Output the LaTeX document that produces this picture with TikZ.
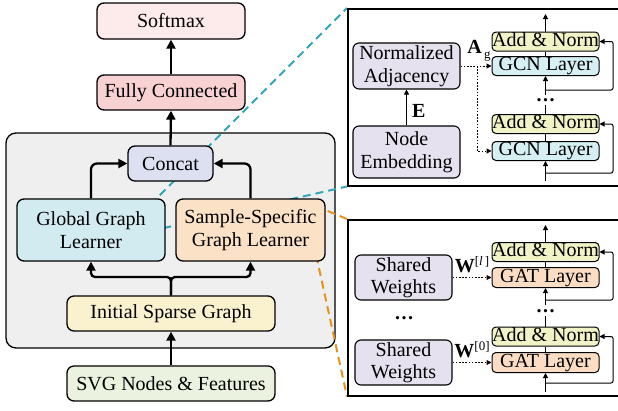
\documentclass[tikz,border=0pt]{standalone}
\usepackage{fontspec}
\setmainfont{Liberation Serif}
\usetikzlibrary{arrows.meta,backgrounds,calc}

\definecolor{softmaxfill}{HTML}{FDEAEA}
\definecolor{fcfill}{HTML}{F8D1D2}
\definecolor{concatfill}{HTML}{DCE0F1}
\definecolor{globalfill}{HTML}{D1EBF0}
\definecolor{samplefill}{HTML}{FBE1C6}
\definecolor{initfill}{HTML}{FAF2CE}
\definecolor{svgfill}{HTML}{EBF3E0}
\definecolor{containerfill}{HTML}{EFEFEF}
\definecolor{lavfill}{HTML}{E6E1EE}
\definecolor{anfill}{HTML}{F1F3C6}
\definecolor{gcnfill}{HTML}{D5EFF3}
\definecolor{gatfill}{HTML}{FBDDC3}
\definecolor{tealline}{HTML}{31A6B8}
\definecolor{orangeline}{HTML}{E8921E}

\begin{document}
\begin{tikzpicture}[x=1pt,y=-1pt,
  font=\fontsize{20}{22.5}\selectfont,
  box/.style={draw, line width=1.3pt, rounded corners=7pt, align=center, inner sep=0pt},
  lbox/.style={draw, line width=1.1pt, rounded corners=6pt, align=center, inner sep=0pt,
               fill=lavfill, minimum width=97pt, minimum height=45pt},
  sbox/.style={draw, line width=1pt, rounded corners=4pt, inner sep=0pt,
               minimum width=107pt, minimum height=19pt, text height=13pt, text depth=4pt},
  panel/.style={draw, line width=1.5pt, fill=white, inner sep=0pt, anchor=north west},
  arr/.style={line width=2.3pt, -{Triangle[length=9pt,width=9pt]}},
  link/.style={line width=1pt},
  tarr/.style={line width=1pt, -{Triangle[length=5pt,width=5pt]}},
  dotarr/.style={line width=1pt, dash pattern=on 1.6pt off 1.6pt, -{Triangle[length=5pt,width=5pt]}},
  dotsn/.style={inner sep=0pt, text height=3pt, text depth=0pt, font=\fontsize{20}{20}\selectfont\bfseries},
  callout/.style={line width=2pt, dash pattern=on 8pt off 5pt},
]
\useasboundingbox (0,0) rectangle (618,410);
\clip (0,0) rectangle (618,410);

% ---------------- main pipeline ----------------
\node[box, fill=softmaxfill, minimum width=148pt, minimum height=36pt] (softmax) at (171,21) {Softmax};
\node[box, fill=fcfill, minimum width=148pt, minimum height=35pt] (fc) at (171,92.5) {Fully Connected};
\node[box, fill=concatfill, minimum width=85pt, minimum height=35pt] (concat) at (170.5,163.5) {Concat};
\node[box, fill=globalfill, minimum width=148pt, minimum height=62pt] (gl) at (91,230) {Global Graph\\Learner};
\node[box, fill=samplefill, minimum width=149pt, minimum height=62pt] (ssl) at (250.5,230) {Sample-Specific\\Graph Learner};
\node[box, fill=initfill, minimum width=208pt, minimum height=35pt] (isg) at (171,313.5) {Initial Sparse Graph};
\node[box, fill=svgfill, minimum width=208pt, minimum height=35pt] (svg) at (171,383.5) {SVG Nodes \& Features};

\coordinate (split) at (171,277);
\draw[arr] (svg.north) -- (isg.south);
\draw[arr, rounded corners=4pt] (isg.north) -- (split) -| (gl.south);
\draw[arr, rounded corners=4pt] (isg.north) -- (split) -| (ssl.south);
\draw[arr, rounded corners=6pt] (gl.north) |- (concat.west);
\draw[arr, rounded corners=6pt] (ssl.north) |- (concat.east);
\draw[arr] (concat.north) -- (fc.south);
\draw[arr] (fc.north) -- (softmax.south);

% ---------------- global graph learner panel ----------------
\node[panel, minimum width=300pt, minimum height=177pt] (p1) at (347,8) {};
\node[lbox, minimum width=107pt, minimum height=46pt] (na) at (406.5,66) {Normalized\\Adjacency};
\node[lbox, minimum width=107pt, minimum height=52pt] (ne) at (406.5,152) {Node\\Embedding};
\draw[tarr] (ne.north) -- node[pos=0.4, right=5pt, inner sep=0pt] (elbl) {\bfseries E} (na.south);

\node[sbox, fill=anfill] (an1) at (545.5,41.5) {Add \& Norm};
\node[sbox, fill=gcnfill] (gcn1) at (545.5,66) {GCN Layer};
\node[sbox, fill=anfill] (an2) at (545.5,124) {Add \& Norm};
\node[sbox, fill=gcnfill] (gcn2) at (545.5,151) {GCN Layer};
\node (ag) at (479,51) {\bfseries A\raisebox{-5pt}{\fontsize{13}{13}\selectfont\mdseries\,g}};

\coordinate (out1) at (545.5,14);
\coordinate (in1) at (545.5,95);
\coordinate (res1) at (545.5,90);
\coordinate (in2) at (545.5,181);
\coordinate (res2) at (545.5,173);
\coordinate (br1) at (477,66);
\node[dotsn] (d1) at (545.5,100) {.\kern1.5pt.\kern1.5pt.};

\draw[tarr] (an1.north) -- (out1);
\draw[link] (gcn1.north) -- (an1.south);
\draw[tarr] (in1) -- (gcn1.south);
\draw[tarr, rounded corners=2pt] (res1) -| (613,41.5) -- (an1.east);
\draw[link] (an2.north) -- (545.5,105);
\draw[link] (gcn2.north) -- (an2.south);
\draw[tarr] (in2) -- (gcn2.south);
\draw[tarr, rounded corners=2pt] (res2) -| (613,124) -- (an2.east);
\draw[dotarr] (na.east) -- (gcn1.west);
\draw[dotarr] (br1) |- (gcn2.west);

% ---------------- sample-specific graph learner panel ----------------
\node[panel, minimum width=300pt, minimum height=176pt] (p2) at (347,219) {};
\node[lbox] (sw1) at (403.5,277.5) {Shared\\Weights};
\node[lbox] (sw2) at (403.5,362.5) {Shared\\Weights};
\node[dotsn] (d3) at (404,318) {.\kern1.5pt.\kern1.5pt.};
\node (wl) at (472,265) {\bfseries W\raisebox{7pt}{\fontsize{13}{13}\selectfont\mdseries[\textit{l}\,]}};
\node (w0) at (472,350) {\bfseries W\raisebox{7pt}{\fontsize{13}{13}\selectfont\mdseries[0]}};

\node[sbox, fill=anfill] (an3) at (545.5,252) {Add \& Norm};
\node[sbox, fill=gatfill, minimum height=20pt] (gat1) at (545.5,277.5) {GAT Layer};
\node[sbox, fill=anfill] (an4) at (545.5,336.5) {Add \& Norm};
\node[sbox, fill=gatfill, minimum height=20pt] (gat2) at (545.5,362.5) {GAT Layer};

\coordinate (out3) at (545.5,225);
\coordinate (in3) at (545.5,305);
\coordinate (res3) at (545.5,300);
\coordinate (in4) at (545.5,392);
\coordinate (res4) at (545.5,383);
\node[dotsn] (d2) at (545.5,311) {.\kern1.5pt.\kern1.5pt.};

\draw[tarr] (an3.north) -- (out3);
\draw[link] (gat1.north) -- (an3.south);
\draw[tarr] (in3) -- (gat1.south);
\draw[tarr, rounded corners=2pt] (res3) -| (613,252) -- (an3.east);
\draw[link] (an4.north) -- (545.5,316);
\draw[link] (gat2.north) -- (an4.south);
\draw[tarr] (in4) -- (gat2.south);
\draw[tarr, rounded corners=2pt] (res4) -| (613,336.5) -- (an4.east);
\draw[dotarr] (sw1.east) -- (gat1.west);
\draw[dotarr] (sw2.east) -- (gat2.west);

% ---------------- container and zoom callouts (behind) ----------------
\begin{pgfonlayer}{background}
  \draw[line width=1.3pt, fill=containerfill, rounded corners=10pt] (6,133) rectangle (335,348);
  \draw[callout, tealline] ($(gl.north east)+(-15,6)$) -- (p1.north west);
  \draw[callout, tealline] ($(gl.east)+(-15,1)$) -- (p1.south west);
  \draw[callout, orangeline] ($(ssl.east)+(-10,-24)$) -- (p2.north west);
  \draw[callout, orangeline] ($(ssl.east)+(-15,0)$) -- (p2.south west);
\end{pgfonlayer}
\end{tikzpicture}
\end{document}
